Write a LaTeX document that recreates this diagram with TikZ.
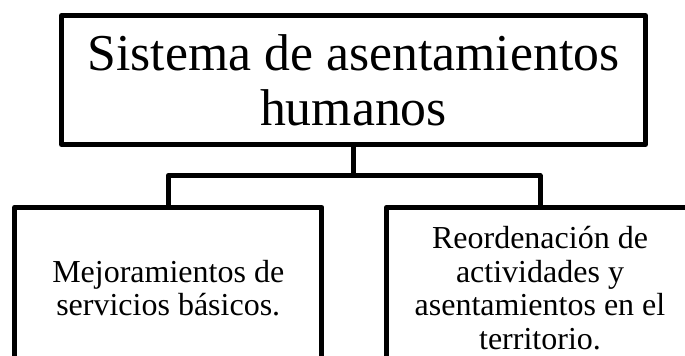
\documentclass[tikz,border=0pt]{standalone}
\usepackage{fontspec}
\setmainfont{Liberation Serif}
\usepackage{tikz}

\begin{document}
\begin{tikzpicture}[x=0.75pt, y=-0.75pt, line width=3.75pt, line join=round,
box/.style={draw=black,rectangle,align=center,inner sep=0pt},
big/.style={font=\fontsize{38.8}{41.25}\selectfont},
small/.style={font=\fontsize{24}{25.1}\selectfont}]
\useasboundingbox (0,0) rectangle (685,356);
\clip (0,0) rectangle (685,356);
\node[box,big,minimum width=438pt,minimum height=96.75pt] (sistema) at (353.5,80) {Sistema de asentamientos\\humanos};
\node[box,small,minimum width=230.6pt,minimum height=121pt] (mejora) at (168.25,288) {Mejoramientos de\\servicios básicos.};
\node[box,small,minimum width=230.6pt,minimum height=121pt] (reorden) at (540,288) {Reordenación de\\actividades y\\asentamientos en el\\territorio.};
\coordinate (split) at (353.5,175.5);
\draw (sistema) -- (split);
\draw (mejora.north) |- (split) -| (reorden.north);
\end{tikzpicture}
\end{document}
